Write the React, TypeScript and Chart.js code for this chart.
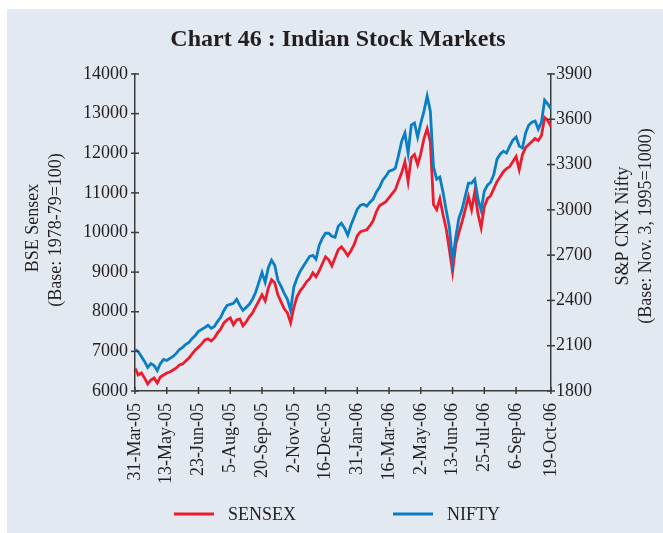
import React, { useEffect, useRef } from 'react';
import { Chart, registerables } from 'chart.js';

Chart.register(...registerables);

// ---- Data ----
const TITLE = 'Chart 46 : Indian Stock Markets';
const xTickLabels = [
  '31-Mar-05', '13-May-05', '23-Jun-05', '5-Aug-05', '20-Sep-05', '2-Nov-05', '16-Dec-05',
  '31-Jan-06', '16-Mar-06', '2-May-06', '13-Jun-06', '25-Jul-06', '6-Sep-06', '19-Oct-06',
];
// position of each date label, in label intervals (last interval slightly longer)
const xTickPositions = [0, 1, 2, 3, 4, 5, 6, 7, 8, 9, 10, 11, 12, 13.1];
// one sample every 3 trading days: 10 samples per label interval
const samplesPerInterval = 10;

const sensexValues = [
  6581, 6404, 6455, 6329, 6177, 6278, 6329, 6202, 6354, 6404,
  6455, 6480, 6531, 6581, 6657, 6683, 6758, 6834, 6935, 7036,
  7112, 7188, 7289, 7315, 7264, 7340, 7466, 7567, 7719, 7795,
  7845, 7668, 7795, 7820, 7643, 7744, 7871, 7972, 8124, 8275,
  8427, 8275, 8604, 8806, 8730, 8427, 8250, 8073, 7972, 7719,
  8098, 8376, 8528, 8629, 8756, 8831, 8983, 8882, 9034, 9211,
  9388, 9312, 9160, 9362, 9564, 9640, 9539, 9413, 9539, 9691,
  9918, 10020, 10045, 10070, 10171, 10298, 10525, 10677, 10727, 10778,
  10879, 10980, 11081, 11309, 11511, 11789, 11284, 11890, 11966, 11713,
  11991, 12371, 12623, 12295, 10702, 10576, 10854, 10449, 10095, 9564,
  9008, 9691, 9994, 10272, 10576, 10904, 10576, 11031, 10475, 10121,
  10652, 10854, 10930, 11107, 11284, 11410, 11536, 11612, 11663, 11789,
  11916, 11587, 11966, 12143, 12219, 12295, 12371, 12320, 12446, 12901,
  12826, 12674,
];

const niftyValues = [
  2075, 2062, 2029, 1996, 1956, 1982, 1969, 1936, 1982, 2009,
  2002, 2016, 2029, 2049, 2075, 2089, 2109, 2122, 2148, 2168,
  2195, 2208, 2221, 2235, 2215, 2228, 2261, 2288, 2334, 2367,
  2374, 2381, 2407, 2367, 2334, 2354, 2374, 2407, 2454, 2520,
  2586, 2520, 2619, 2666, 2633, 2533, 2493, 2447, 2407, 2334,
  2487, 2546, 2593, 2626, 2659, 2692, 2699, 2673, 2765, 2812,
  2845, 2845, 2825, 2818, 2891, 2911, 2878, 2832, 2898, 2951,
  3004, 3031, 3037, 3024, 3051, 3071, 3117, 3150, 3197, 3223,
  3256, 3263, 3276, 3363, 3455, 3509, 3376, 3562, 3575, 3482,
  3575, 3654, 3754, 3654, 3283, 3203, 3217, 3117, 2998, 2885,
  2659, 2818, 2945, 3004, 3091, 3177, 3177, 3203, 3071, 2998,
  3124, 3164, 3183, 3236, 3336, 3369, 3389, 3376, 3422, 3462,
  3482, 3422, 3409, 3509, 3562, 3581, 3588, 3535, 3581, 3727,
  3701, 3668,
];

const leftAxis = { min: 6000, max: 14000, step: 1000 };
const rightAxis = { min: 1800, max: 3900, step: 300 };
const leftTitle = ['BSE Sensex', '(Base: 1978-79=100)'];
const rightTitle = ['S&P CNX Nifty', '(Base: Nov. 3, 1995=1000)'];
const seriesNames = ['SENSEX', 'NIFTY'];

// ---- Style ----
const FONT = "'Liberation Serif', 'Times New Roman', serif";
const PANEL = 'rgb(226,233,241)';
const TEXT = '#231f20';
const AXIS = '#3c3c3c';
const RED = '#ec1c2e';
const BLUE = '#0a7ec4';

const toPoints = (vals: number[]) => vals.map((v, i) => ({ x: i / samplesPerInterval, y: v }));

const decor = {
  id: 'decor',
  beforeDraw(chart: any) {
    const ctx = chart.ctx;
    ctx.save();
    ctx.fillStyle = PANEL;
    ctx.fillRect(7, 9, chart.width - 7, chart.height - 9);
    ctx.restore();
  },
  afterDraw(chart: any) {
    const { ctx, chartArea } = chart;
    const sx = chart.scales.x;
    const yl = chart.scales.y;
    const yr = chart.scales.y1;
    ctx.save();
    ctx.strokeStyle = AXIS;
    ctx.lineWidth = 1.5;
    const seg = (x1: number, y1: number, x2: number, y2: number) => {
      ctx.beginPath();
      ctx.moveTo(x1, y1);
      ctx.lineTo(x2, y2);
      ctx.stroke();
    };
    yl.ticks.forEach((t: any) => {
      const p = yl.getPixelForValue(t.value);
      seg(chartArea.left - 4, p, chartArea.left + 4, p);
    });
    yr.ticks.forEach((t: any) => {
      const p = yr.getPixelForValue(t.value);
      seg(chartArea.right - 4, p, chartArea.right + 4, p);
    });
    sx.ticks.forEach((t: any) => {
      const p = sx.getPixelForValue(t.value);
      seg(p, chartArea.bottom - 4, p, chartArea.bottom + 3);
    });

    // title
    ctx.fillStyle = TEXT;
    ctx.font = `bold 24px ${FONT}`;
    ctx.textAlign = 'center';
    ctx.textBaseline = 'alphabetic';
    ctx.fillText(TITLE, 338, 46);

    // axis titles (both read bottom-to-top)
    ctx.font = `18px ${FONT}`;
    ctx.textBaseline = 'middle';
    const rot = (text: string, x: number, y: number) => {
      ctx.save();
      ctx.translate(x, y);
      ctx.rotate(-Math.PI / 2);
      ctx.fillText(text, 0, 0);
      ctx.restore();
    };
    rot(leftTitle[0], 33, 228);
    rot(leftTitle[1], 56, 230);
    rot(rightTitle[0], 623, 226);
    rot(rightTitle[1], 646, 226);

    // legend
    const ly = 514;
    ctx.lineWidth = 3;
    ctx.strokeStyle = RED;
    seg(174, ly, 214, ly);
    ctx.strokeStyle = BLUE;
    seg(393, ly, 433, ly);
    ctx.textAlign = 'left';
    ctx.fillStyle = TEXT;
    ctx.fillText(seriesNames[0], 228, ly + 1);
    ctx.fillText(seriesNames[1], 447, ly + 1);
    ctx.restore();
  },
};

export default function App() {
  const ref = useRef<HTMLCanvasElement | null>(null);
  useEffect(() => {
    if (!ref.current) return;
    const chart = new Chart(ref.current, {
      type: 'line',
      data: {
        datasets: [
          {
            label: seriesNames[0],
            data: toPoints(sensexValues),
            yAxisID: 'y',
            borderColor: RED,
            borderWidth: 2.8,
            pointRadius: 0,
            tension: 0,
            order: 1,
          },
          {
            label: seriesNames[1],
            data: toPoints(niftyValues),
            yAxisID: 'y1',
            borderColor: BLUE,
            borderWidth: 2.8,
            pointRadius: 0,
            tension: 0,
            order: 0,
          },
        ],
      },
      options: {
        responsive: false,
        animation: false,
        devicePixelRatio: 1,
        layout: { padding: { top: 74, left: 0, right: 0, bottom: 0 } },
        plugins: {
          legend: { display: false },
          title: { display: false },
          tooltip: { enabled: false },
        },
        scales: {
          x: {
            type: 'linear',
            min: 0,
            max: xTickPositions[xTickPositions.length - 1],
            grid: { display: false, drawTicks: false },
            border: { display: true, color: AXIS, width: 1.5 },
            ticks: {
              autoSkip: false,
              minRotation: 90,
              maxRotation: 90,
              padding: 12,
              color: TEXT,
              font: { family: FONT, size: 18 },
              callback: (_v: any, i: number) => xTickLabels[i],
            },
            afterBuildTicks: (s: any) => {
              s.ticks = xTickPositions.map((v) => ({ value: v }));
            },
            afterFit: (s: any) => {
              s.height = 142;
            },
          },
          y: {
            position: 'left',
            min: leftAxis.min,
            max: leftAxis.max,
            grid: { display: false, drawTicks: false },
            border: { display: true, color: AXIS, width: 1.5 },
            ticks: {
              stepSize: leftAxis.step,
              padding: 7,
              color: TEXT,
              font: { family: FONT, size: 18 },
              callback: (v: any) => String(v),
            },
            afterFit: (s: any) => {
              s.width = 135;
            },
          },
          y1: {
            position: 'right',
            min: rightAxis.min,
            max: rightAxis.max,
            grid: { display: false, drawTicks: false },
            border: { display: true, color: AXIS, width: 1.5 },
            ticks: {
              stepSize: rightAxis.step,
              padding: 5,
              color: TEXT,
              font: { family: FONT, size: 18 },
              callback: (v: any) => String(v),
            },
            afterFit: (s: any) => {
              s.width = 112;
            },
          },
        },
      } as any,
      plugins: [decor],
    });
    return () => chart.destroy();
  }, []);

  return (
    <div style={{ position: 'absolute', left: 0, top: 0, width: 663, height: 533 }}>
      <canvas ref={ref} width={663} height={533} />
    </div>
  );
}
